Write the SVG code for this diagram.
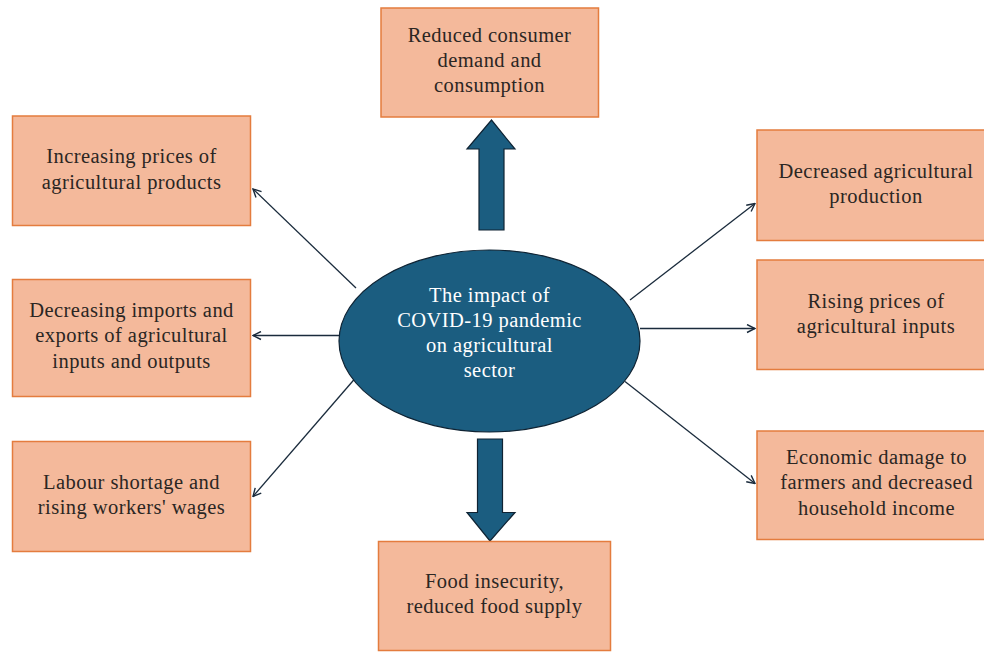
<svg xmlns="http://www.w3.org/2000/svg" width="984" height="652" viewBox="0 0 984 652">
<defs>
<style>
.box{fill:#f4b99b;stroke:#e47c3e;stroke-width:1.5}
.t{font-family:"Liberation Serif","Times New Roman",serif;font-size:20.5px;fill:#2b2623;text-anchor:middle;letter-spacing:0.45px}
.w{fill:#ffffff}
.con{stroke:#1a2b3c;stroke-width:1.3;fill:none;marker-end:url(#ah)}
.big{fill:#1b5d80;stroke:#0f2333;stroke-width:1.2}
</style>
<marker id="ah" viewBox="0 0 10 10" refX="9" refY="5" markerWidth="10" markerHeight="10" markerUnits="userSpaceOnUse" orient="auto">
<path d="M1,1 L9,5 L1,9" fill="none" stroke="#1a2b3c" stroke-width="1.4"/>
</marker>
</defs>
<rect width="984" height="652" fill="#ffffff"/>

<g id="connectors">
<polygon class="big" points="479,230 479,149 467,149 491.5,120 515,149 504,149 504,230"/>
<polygon class="big" points="477.5,439 502.5,439 502.5,512.5 515,512.5 490,541 467,512.5 477.5,512.5"/>
<line class="con" x1="356" y1="288" x2="253" y2="189"/>
<line class="con" x1="340" y1="335.5" x2="253" y2="335.5"/>
<line class="con" x1="355" y1="378.5" x2="253" y2="496.5"/>
<line class="con" x1="630" y1="300" x2="755" y2="203.5"/>
<line class="con" x1="640" y1="328.5" x2="755" y2="328.5"/>
<line class="con" x1="625" y1="381.5" x2="755" y2="483.5"/>
</g>

<g id="center">
<ellipse cx="489.5" cy="341" rx="150.5" ry="91" fill="#1b5d80" stroke="#0f2333" stroke-width="1.2"/>
<text class="t w" x="489.5" y="302">The impact of</text>
<text class="t w" x="489.5" y="327">COVID-19 pandemic</text>
<text class="t w" x="489.5" y="352">on agricultural</text>
<text class="t w" x="489.5" y="377">sector</text>
</g>

<g id="top">
<rect class="box" x="381" y="8" width="217.5" height="109"/>
<text class="t" x="489.5" y="42">Reduced consumer</text>
<text class="t" x="489.5" y="67">demand and</text>
<text class="t" x="489.5" y="92">consumption</text>
</g>

<g id="bottom">
<rect class="box" x="378.5" y="541.5" width="232" height="109"/>
<text class="t" x="494.5" y="588">Food insecurity,</text>
<text class="t" x="494.5" y="613">reduced food supply</text>
</g>

<g id="left1">
<rect class="box" x="12.5" y="116" width="238" height="109.5"/>
<text class="t" x="131.5" y="163">Increasing prices of</text>
<text class="t" x="131.5" y="189">agricultural products</text>
</g>

<g id="left2">
<rect class="box" x="12.5" y="279.5" width="238" height="117"/>
<text class="t" x="131.5" y="317">Decreasing imports and</text>
<text class="t" x="131.5" y="342">exports of agricultural</text>
<text class="t" x="131.5" y="368">inputs and outputs</text>
</g>

<g id="left3">
<rect class="box" x="12.5" y="441.5" width="238" height="110"/>
<text class="t" x="131.5" y="489">Labour shortage and</text>
<text class="t" x="131.5" y="514">rising workers' wages</text>
</g>

<g id="right1">
<rect class="box" x="757" y="130" width="240" height="110.5"/>
<text class="t" x="876" y="178">Decreased agricultural</text>
<text class="t" x="876" y="203">production</text>
</g>

<g id="right2">
<rect class="box" x="757" y="260" width="240" height="109.5"/>
<text class="t" x="876" y="308">Rising prices of</text>
<text class="t" x="876" y="333">agricultural inputs</text>
</g>

<g id="right3">
<rect class="box" x="757" y="431" width="240" height="108.5"/>
<text class="t" x="876.5" y="464">Economic damage to</text>
<text class="t" x="876.5" y="489">farmers and decreased</text>
<text class="t" x="876.5" y="515">household income</text>
</g>
</svg>
